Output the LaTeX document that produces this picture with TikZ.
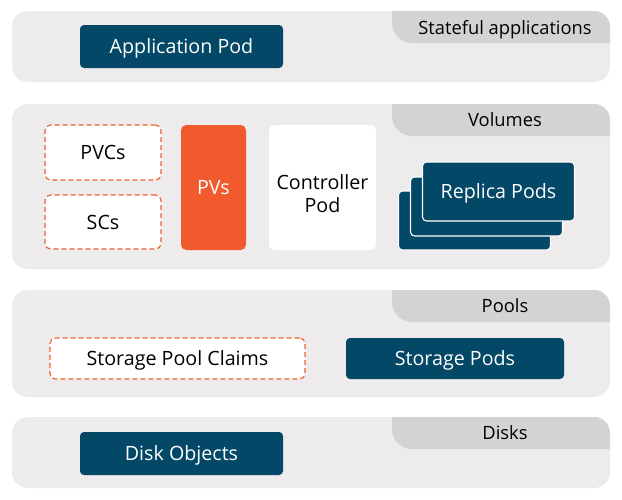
\documentclass[tikz,border=0pt]{standalone}
\usepackage{fontspec}
\setmainfont{Open Sans}
\usetikzlibrary{positioning}

\definecolor{layergray}{HTML}{EDEBEC}
\definecolor{tabgray}{HTML}{D3D3D3}
\definecolor{podblue}{HTML}{034866}
\definecolor{pvorange}{HTML}{F15A2C}
\definecolor{claimorange}{HTML}{F0602F}

\begin{document}
\begin{tikzpicture}[
  x=0.75pt, y=-0.75pt,
  layer/.style={fill=layergray,rounded corners=12pt},
  tab/.style={fill=tabgray,rounded corners=15pt},
  tablabel/.style={font=\fontsize{13.75}{16}\selectfont,text=black,text depth=0pt,anchor=center},
  podfont/.style={font=\fontsize{14.75}{17.5}\selectfont,text depth=0pt},
  pod/.style={podfont,fill=podblue,text=white,rounded corners=3pt,align=center},
  claim/.style={podfont,fill=white,draw=claimorange,line width=0.85pt,dash pattern=on 3.75pt off 2.25pt,
                rounded corners=4pt,align=center},
  replica/.style={pod,draw=white,line width=0.8pt,minimum width=114pt,minimum height=44.25pt}
]
  \useasboundingbox (0,0) rectangle (622,500);

  % layers with their tabs
  \foreach \top/\bot/\lbl/\nm in {11/82/Stateful applications/apps,
                                  104/269/Volumes/vols,
                                  290/397/Pools/pools,
                                  417/488/Disks/disks}{
    \fill[layer] (12,\top) rectangle (610,\bot);
    \begin{scope}
      \clip[rounded corners=12pt] (12,\top) rectangle (610,\bot);
      \fill[tab] (392,\top-40) rectangle (640,\top+32);
    \end{scope}
    \node[tablabel] (\nm) at (505,\top+16) {\lbl};
  }

  % stateful applications
  \node[pod,minimum width=152.25pt,minimum height=32.25pt] (apppod) at (181.5,46.5) {Application Pod};

  % volumes
  \node[claim,minimum width=87pt,minimum height=41.25pt] (pvcs) at (103,152.5) {PVCs};
  \node[claim,minimum width=87pt,minimum height=40.5pt] (scs) at (103,222) {SCs};
  \node[podfont,fill=pvorange,text=white,rounded corners=4pt,minimum width=48.75pt,
        minimum height=93.75pt] (pvs) at (213.5,187.5) {PVs};
  \node[fill=white,rounded corners=4pt,minimum width=80.25pt,minimum height=93.75pt,
        label={[podfont,align=center,yshift=-4.5pt]center:{Controller\\Pod}}] (ctrl) at (322.5,187.5) {};
  \node[replica] (rep3) at (474.5,220.5) {};
  \node[replica] (rep2) at (486.5,206.5) {};
  \node[replica] (rep1) at (498.5,191.5) {Replica Pods};

  % pools
  \node[claim,minimum width=191.25pt,minimum height=30.75pt] (spc) at (177.5,358.5) {Storage Pool Claims};
  \node[pod,minimum width=163.5pt,minimum height=30.75pt] (spods) at (455,358.5) {Storage Pods};

  % disks
  \node[pod,minimum width=152.25pt,minimum height=32.25pt] (diskobj) at (181.5,453.5) {Disk Objects};
\end{tikzpicture}
\end{document}
